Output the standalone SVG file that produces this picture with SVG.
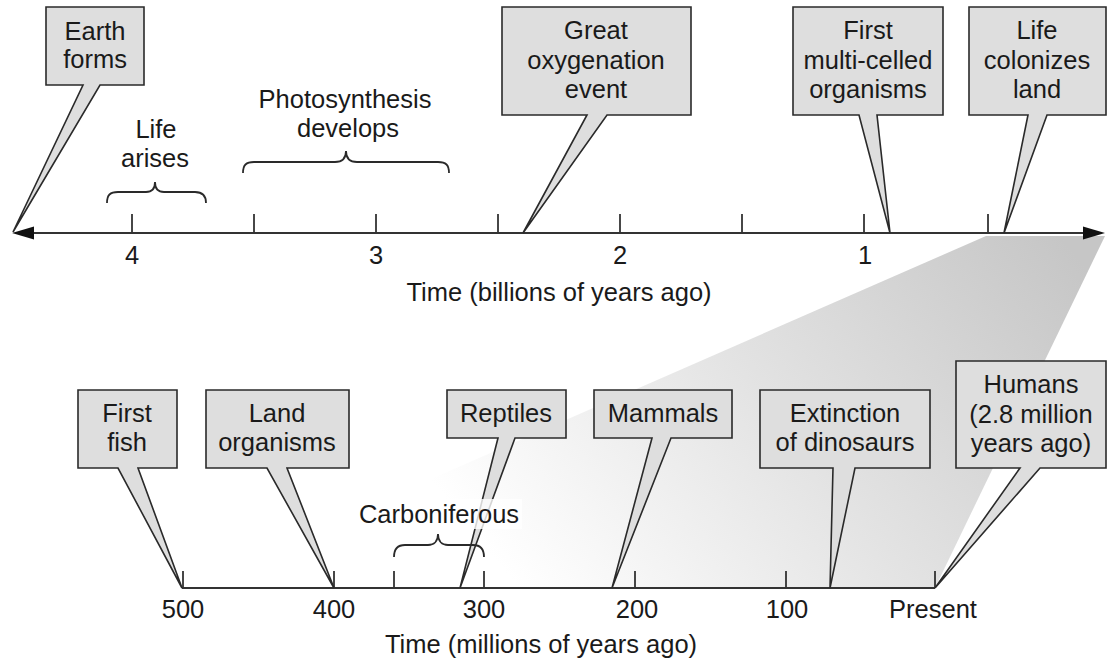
<svg xmlns="http://www.w3.org/2000/svg" width="1108" height="663" viewBox="0 0 1108 663">
<defs>
<linearGradient id="wedgeGrad" gradientUnits="userSpaceOnUse" x1="1060" y1="236" x2="560" y2="640">
<stop offset="0" stop-color="#c6c6c6"/>
<stop offset="0.5" stop-color="#e2e2e2"/>
<stop offset="1" stop-color="#ffffff"/>
</linearGradient>
<style>
.t{font-family:"Liberation Sans",Arial,Helvetica,sans-serif;font-size:25.5px;fill:#1a1a1a;text-anchor:middle}
.box{fill:#dedede;stroke:#2a2a2a;stroke-width:1.6;stroke-linejoin:miter}
.ax{stroke:#333;stroke-width:2;fill:none}
.tick{stroke:#333;stroke-width:1.8}
.brace{fill:none;stroke:#2a2a2a;stroke-width:1.8}
.head{fill:#111}
</style>
</defs>
<rect width="1108" height="663" fill="#ffffff"/>

<polygon id="zoom-wedge" points="986,236 1105,236 935,588 182,588" fill="url(#wedgeGrad)"/>

<g id="connectors">
<line class="ax" x1="30" y1="233" x2="1087" y2="233"/>
<polygon class="head" points="12,233 34,226.5 34,239.5"/>
<polygon class="head" points="1105,233 1083,226.5 1083,239.5"/>
<g class="tick">
<line x1="132" y1="214" x2="132" y2="233"/>
<line x1="254" y1="214" x2="254" y2="233"/>
<line x1="376" y1="214" x2="376" y2="233"/>
<line x1="498" y1="214" x2="498" y2="233"/>
<line x1="620" y1="214" x2="620" y2="233"/>
<line x1="742" y1="214" x2="742" y2="233"/>
<line x1="864" y1="214" x2="864" y2="233"/>
<line x1="988" y1="214" x2="988" y2="233"/>
</g>
<line class="ax" x1="182" y1="588" x2="935" y2="588"/>
<g class="tick">
<line x1="183" y1="571" x2="183" y2="588"/>
<line x1="334" y1="571" x2="334" y2="588"/>
<line x1="394" y1="571" x2="394" y2="588"/>
<line x1="484" y1="571" x2="484" y2="588"/>
<line x1="635" y1="571" x2="635" y2="588"/>
<line x1="786" y1="571" x2="786" y2="588"/>
<line x1="935" y1="571" x2="935" y2="588"/>
</g>
</g>

<g id="axis-labels">
<text class="t" x="132" y="264">4</text>
<text class="t" x="376" y="264">3</text>
<text class="t" x="620" y="264">2</text>
<text class="t" x="865" y="264">1</text>
<text class="t" x="559" y="301">Time (billions of years ago)</text>
<text class="t" x="183" y="618">500</text>
<text class="t" x="334" y="618">400</text>
<text class="t" x="484" y="618">300</text>
<text class="t" x="637" y="618">200</text>
<text class="t" x="787" y="618">100</text>
<text class="t" x="933" y="618">Present</text>
<text class="t" x="541" y="653">Time (millions of years ago)</text>
</g>

<g id="life-arises">
<path class="brace" d="M107,203 C107,195 110,192 118,192 H146 C152,192 155,189 155,182 C155,189 158,192 164,192 H195 C202,192 206,195 206,203"/>
<text class="t" x="156" y="138">Life</text>
<text class="t" x="155" y="167">arises</text>
</g>

<g id="photosynthesis">
<path class="brace" d="M243,173 C243,165 246,162 254,162 H335 C342,162 346,158 346,151 C346,158 350,162 357,162 H438 C446,162 449,165 449,173"/>
<text class="t" x="345" y="108">Photosynthesis</text>
<text class="t" x="348" y="137">develops</text>
</g>

<g id="earth-forms">
<path class="box" d="M46,7 H144 V85 H100 L13,232 L83,85 H46 Z"/>
<text class="t" x="95" y="40">Earth</text>
<text class="t" x="95" y="68">forms</text>
</g>

<g id="great-oxygenation">
<path class="box" d="M502,7 H691 V115 H607 L523,233 L587,115 H502 Z"/>
<text class="t" x="596" y="39">Great</text>
<text class="t" x="596" y="69">oxygenation</text>
<text class="t" x="596" y="98">event</text>
</g>

<g id="multi-celled">
<path class="box" d="M793,7 H943 V115 H877 L890,233 L859,115 H793 Z"/>
<text class="t" x="868" y="39">First</text>
<text class="t" x="868" y="69">multi-celled</text>
<text class="t" x="868" y="98">organisms</text>
</g>

<g id="life-colonizes-land">
<path class="box" d="M969,7 H1106 V115 H1047 L1004,233 L1028,115 H969 Z"/>
<text class="t" x="1037" y="39">Life</text>
<text class="t" x="1037" y="69">colonizes</text>
<text class="t" x="1037" y="98">land</text>
</g>

<g id="first-fish">
<path class="box" d="M78,390 H177 V468 H138 L182,588 L118,468 H78 Z"/>
<text class="t" x="127" y="422">First</text>
<text class="t" x="127" y="451">fish</text>
</g>

<g id="land-organisms">
<path class="box" d="M206,390 H349 V468 H287 L334,588 L267,468 H206 Z"/>
<text class="t" x="277" y="422">Land</text>
<text class="t" x="277" y="451">organisms</text>
</g>

<g id="reptiles">
<path class="box" d="M447,390 H566 V438 H515 L460,588 L498,438 H447 Z"/>
<text class="t" x="506" y="422">Reptiles</text>
</g>

<g id="carboniferous">
<rect x="356" y="499" width="166" height="30" fill="#ffffff" opacity="0.8"/>
<path class="brace" d="M394,557 C394,549 397,545 405,545 H428 C434,545 438,541 438,534 C438,541 442,545 448,545 H473 C481,545 484,549 484,557"/>
<text class="t" x="439" y="523">Carboniferous</text>
</g>

<g id="mammals">
<path class="box" d="M594,390 H732 V438 H671 L612,588 L652,438 H594 Z"/>
<text class="t" x="663" y="422">Mammals</text>
</g>

<g id="extinction">
<path class="box" d="M760,390 H930 V468 H855 L830,588 L833,468 H760 Z"/>
<text class="t" x="845" y="422">Extinction</text>
<text class="t" x="845" y="451">of dinosaurs</text>
</g>

<g id="humans">
<path class="box" d="M956,361 H1106 V468 H1040 L935,588 L1020,468 H956 Z"/>
<text class="t" x="1031" y="393">Humans</text>
<text class="t" x="1031" y="423">(2.8 million</text>
<text class="t" x="1031" y="452">years ago)</text>
</g>
</svg>
